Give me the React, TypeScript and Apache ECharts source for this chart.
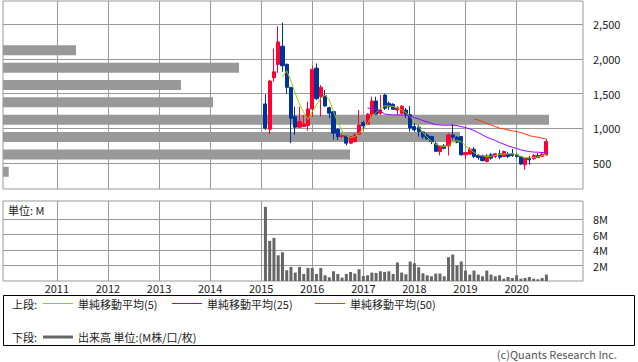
import React, { useEffect, useRef } from 'react';
import * as echarts from 'echarts';

// ---- data ----
const firstYear = 2015;
const firstMonth = 1; // first candle: 2015-01
// [open, close, low, high]
const ohlc: number[][] = [
  [1352, 1003, 978, 1491], [988, 1682, 916, 1700], [1729, 1815, 1672, 2150], [1922, 2246, 1801, 2472],
  [2184, 1902, 1815, 2525], [1922, 1591, 1495, 1936], [1591, 1146, 787, 1591], [1169, 1017, 906, 1313],
  [1017, 1097, 1003, 1313], [1026, 1064, 1026, 1194], [1040, 1280, 968, 1385], [1280, 1850, 1161, 1902],
  [1868, 1428, 1409, 1936], [1456, 1591, 1169, 1624], [1471, 1323, 1313, 1553], [1298, 1218, 1146, 1313],
  [1241, 931, 835, 1241], [988, 882, 835, 1003], [882, 896, 859, 916], [892, 787, 753, 892],
  [787, 882, 777, 882], [810, 906, 796, 931], [916, 1050, 906, 1265], [1083, 1036, 978, 1112],
  [1060, 1204, 1050, 1218], [1204, 1395, 1146, 1456], [1395, 1204, 1194, 1456], [1218, 1265, 1194, 1481],
  [1481, 1290, 1265, 1495], [1362, 1313, 1265, 1385], [1347, 1275, 1265, 1362], [1265, 1298, 1194, 1323],
  [1218, 1320, 1194, 1337], [1265, 1201, 1150, 1294], [1198, 1007, 954, 1323], [1026, 978, 954, 1074],
  [1017, 954, 882, 1050], [949, 878, 845, 964], [906, 849, 835, 931], [885, 813, 773, 892],
  [777, 669, 667, 810], [667, 748, 612, 753], [748, 713, 698, 773], [748, 906, 609, 931],
  [906, 873, 835, 1064], [873, 802, 787, 892], [882, 619, 609, 892], [619, 652, 557, 652],
  [629, 701, 619, 730], [701, 595, 572, 730], [609, 580, 547, 629], [605, 537, 523, 619],
  [523, 605, 509, 629], [619, 572, 547, 644], [595, 634, 572, 644], [634, 586, 557, 691],
  [595, 667, 586, 681], [629, 595, 576, 662], [634, 609, 590, 705], [619, 595, 580, 644],
  [595, 486, 476, 605], [476, 572, 404, 586], [572, 547, 476, 605], [562, 609, 547, 629],
  [609, 580, 572, 644], [595, 629, 586, 644], [619, 810, 605, 845],
];
// monthly volume, M shares
const volumes: number[] = [
  9.6, 5.19, 5.58, 3.33, 3.72, 1.39, 1.82, 1.09, 1.82, 0.91, 1.69, 1.69,
  0.91, 1.69, 0.74, 0.48, 1.26, 0.91, 0.44, 0.91, 1.17, 0.96, 1.52, 0.65,
  0.74, 1.09, 1.04, 1.26, 1.17, 1.26, 0.91, 2.39, 1.09, 0.87, 2.52, 2.3,
  1.78, 1.0, 0.74, 0.61, 0.96, 0.96, 0.61, 3.07, 3.42, 2.0, 2.52, 1.35,
  0.83, 1.35, 0.83, 0.61, 1.35, 0.83, 0.61, 0.74, 0.3, 0.52, 0.39, 0.74,
  0.3, 0.39, 0.52, 0.3, 0.22, 0.39, 0.83,
];
const ma5Start = 4;
const ma5: number[] = [
  1744, 1830, 1682, 1505, 1352, 1227, 1130, 1241, 1337, 1433, 1481, 1409, 1241, 1083, 964, 892,
  868, 882, 931, 988, 1074, 1169, 1227, 1290, 1323, 1323, 1313, 1298, 1265, 1227, 1169, 1097,
  1026, 939, 873, 810, 773, 748, 738, 748, 802, 825, 810, 748, 701, 652, 619, 605,
  595, 600, 609, 623, 629, 634, 634, 623, 595, 580, 576, 580, 590, 605, 634,
];
const ma25Start = 24;
const ma25: number[] = [
  1290, 1290, 1280, 1251, 1208, 1198, 1194, 1194, 1194, 1189, 1175, 1155, 1136, 1112, 1093, 1074,
  1054, 1050, 1046, 1046, 1046, 1040, 1026, 1011, 993, 968, 939, 906, 873, 849, 825, 796,
  773, 748, 730, 710, 691, 677, 667, 658, 658, 652, 658,
];
const ma50Start = 49;
const ma50: number[] = [
  1132, 1122, 1097, 1074, 1050, 1026, 1003, 993, 978, 964, 954, 939, 921, 896, 882, 873, 859, 845,
];
// volume-by-price profile
const profilePrices: number[] = [375, 625, 875, 1125, 1375, 1625, 1875, 2125];
const profileVolumes: number[] = [0.57, 34.7, 45.7, 54.6, 21.0, 17.8, 23.6, 7.3];
const yearLabels: number[] = [2011, 2012, 2013, 2014, 2015, 2016, 2017, 2018, 2019, 2020];
const priceTicks: number[] = [500, 1000, 1500, 2000, 2500];
const volumeTicks: number[] = [2, 4, 6, 8];

const FONT = "'Noto Sans CJK JP', 'Noto Sans', sans-serif";
const GRID = '#999999';

const monthX = (i: number) => (firstYear - 2010) * 12 + firstMonth + i;
const yearX = (y: number) => (y - 2010) * 12;

export default function App() {
  const ref = useRef<HTMLDivElement>(null);
  useEffect(() => {
    if (!ref.current) return;
    const chart = echarts.init(ref.current, undefined, { renderer: 'svg' });
    const xMin = -0.65;
    const xMax = 135.6;
    const yearVals = yearLabels.map(yearX);
    const candleData = ohlc.map((d, i) => [monthX(i), d[0], d[1], d[2], d[3]]);
    const volData = volumes.map((v, i) => [monthX(i), v]);
    const lineData = (arr: number[], start: number) => arr.map((v, i) => [monthX(start + i), v]);
    const profileData = profileVolumes.map((v, i) => [v, profilePrices[i]]);
    const barHalf = 72;

    const splitLine = { show: true, lineStyle: { color: GRID, width: 1 } };
    const option: any = {
      animation: false,
      textStyle: { fontFamily: FONT },
      grid: [
        { left: 3, top: 1, width: 580, height: 188, show: true, borderColor: GRID, borderWidth: 1 },
        { left: 3, top: 201, width: 580, height: 80, show: true, borderColor: GRID, borderWidth: 1 },
      ],
      xAxis: [
        {
          type: 'value', gridIndex: 0, min: xMin, max: xMax,
          axisLine: { show: false },
          axisTick: { show: false, customValues: yearVals },
          axisLabel: { show: false, customValues: yearVals },
          splitLine,
        },
        { type: 'value', gridIndex: 0, min: 0, max: 58, show: false, splitLine: { show: false } },
        {
          type: 'value', gridIndex: 1, min: xMin, max: xMax,
          axisLine: { show: false },
          axisTick: { show: false, customValues: yearVals },
          axisLabel: {
            customValues: yearVals, margin: 1, fontSize: 11, lineHeight: 12, color: '#222', fontFamily: FONT,
            formatter: (v: number) => String(2010 + Math.round(v / 12)),
          },
          splitLine,
        },
      ],
      yAxis: [
        {
          type: 'value', gridIndex: 0, position: 'right', min: 127, max: 2835,
          axisLine: { show: false },
          axisTick: { show: true, length: 4, customValues: priceTicks, lineStyle: { color: GRID } },
          axisLabel: {
            customValues: priceTicks, margin: 10, fontSize: 11, color: '#222', fontFamily: FONT,
            formatter: (v: number) => v.toLocaleString('en-US'),
          },
          splitLine,
        },
        {
          type: 'value', gridIndex: 1, position: 'right', min: 0, max: 10.35,
          axisLine: { show: false },
          axisTick: { show: true, length: 4, customValues: volumeTicks, lineStyle: { color: GRID } },
          axisLabel: {
            customValues: volumeTicks, margin: 10, fontSize: 11, color: '#222', fontFamily: FONT,
            formatter: (v: number) => v + 'M',
          },
          splitLine,
        },
      ],
      series: [
        {
          type: 'custom', xAxisIndex: 1, yAxisIndex: 0, z: 1, silent: true,
          data: profileData,
          renderItem: (_p: any, api: any) => {
            const v = api.value(0);
            const price = api.value(1);
            const a = api.coord([0, price + barHalf]);
            const b = api.coord([v, price - barHalf]);
            return {
              type: 'rect',
              shape: { x: a[0], y: a[1], width: b[0] - a[0], height: b[1] - a[1] },
              style: { fill: '#999999' },
            };
          },
        },
        {
          type: 'candlestick', xAxisIndex: 0, yAxisIndex: 0, z: 2, barWidth: 3.6,
          data: candleData,
          itemStyle: {
            color: '#FF0033', color0: '#003399', borderColor: '#FF0033', borderColor0: '#003399', borderWidth: 1,
          },
        },
        {
          type: 'line', xAxisIndex: 0, yAxisIndex: 0, z: 3, symbol: 'none',
          data: lineData(ma5, ma5Start), lineStyle: { color: '#99CC00', width: 1 },
        },
        {
          type: 'line', xAxisIndex: 0, yAxisIndex: 0, z: 3, symbol: 'none',
          data: lineData(ma25, ma25Start), lineStyle: { color: '#9900FF', width: 1 },
        },
        {
          type: 'line', xAxisIndex: 0, yAxisIndex: 0, z: 3, symbol: 'none',
          data: lineData(ma50, ma50Start), lineStyle: { color: '#FF3300', width: 1 },
        },
        {
          type: 'bar', xAxisIndex: 2, yAxisIndex: 1, barWidth: 3,
          data: volData, itemStyle: { color: '#666666' },
        },
      ],
      graphic: [
        { type: 'text', x: 8, y: 210, style: { text: '単位: M', font: `11px ${FONT}`, fill: '#222', verticalAlign: 'middle' } },
        { type: 'rect', shape: { x: 3.5, y: 295.5, width: 631, height: 50 }, style: { fill: 'none', stroke: '#000', lineWidth: 1 } },
        { type: 'text', x: 12, y: 304, style: { text: '上段:', font: `11px ${FONT}`, fill: '#222', verticalAlign: 'middle' } },
        { type: 'line', shape: { x1: 43, y1: 303.5, x2: 73, y2: 303.5 }, style: { stroke: '#99CC00', lineWidth: 1 } },
        { type: 'text', x: 78, y: 304, style: { text: '単純移動平均(5)', font: `11px ${FONT}`, fill: '#222', verticalAlign: 'middle' } },
        { type: 'line', shape: { x1: 172, y1: 303.5, x2: 202, y2: 303.5 }, style: { stroke: '#9900FF', lineWidth: 1 } },
        { type: 'text', x: 207, y: 304, style: { text: '単純移動平均(25)', font: `11px ${FONT}`, fill: '#222', verticalAlign: 'middle' } },
        { type: 'line', shape: { x1: 315, y1: 303.5, x2: 345, y2: 303.5 }, style: { stroke: '#FF3300', lineWidth: 1 } },
        { type: 'text', x: 350, y: 304, style: { text: '単純移動平均(50)', font: `11px ${FONT}`, fill: '#222', verticalAlign: 'middle' } },
        { type: 'text', x: 12, y: 337, style: { text: '下段:', font: `11px ${FONT}`, fill: '#222', verticalAlign: 'middle' } },
        { type: 'line', shape: { x1: 43, y1: 337, x2: 73, y2: 337 }, style: { stroke: '#666666', lineWidth: 3 } },
        { type: 'text', x: 78, y: 337, style: { text: '出来高 単位:(M株/口/枚)', font: `11px ${FONT}`, fill: '#222', verticalAlign: 'middle' } },
        { type: 'text', x: 617, y: 354, style: { text: '(c)Quants Research Inc.', font: `11px ${FONT}`, fill: '#555', align: 'right', verticalAlign: 'middle' } },
      ],
    };
    chart.setOption(option);
    return () => chart.dispose();
  }, []);
  return <div ref={ref} style={{ position: 'fixed', left: 0, top: 0, width: 638, height: 362, background: '#fff' }} />;
}
